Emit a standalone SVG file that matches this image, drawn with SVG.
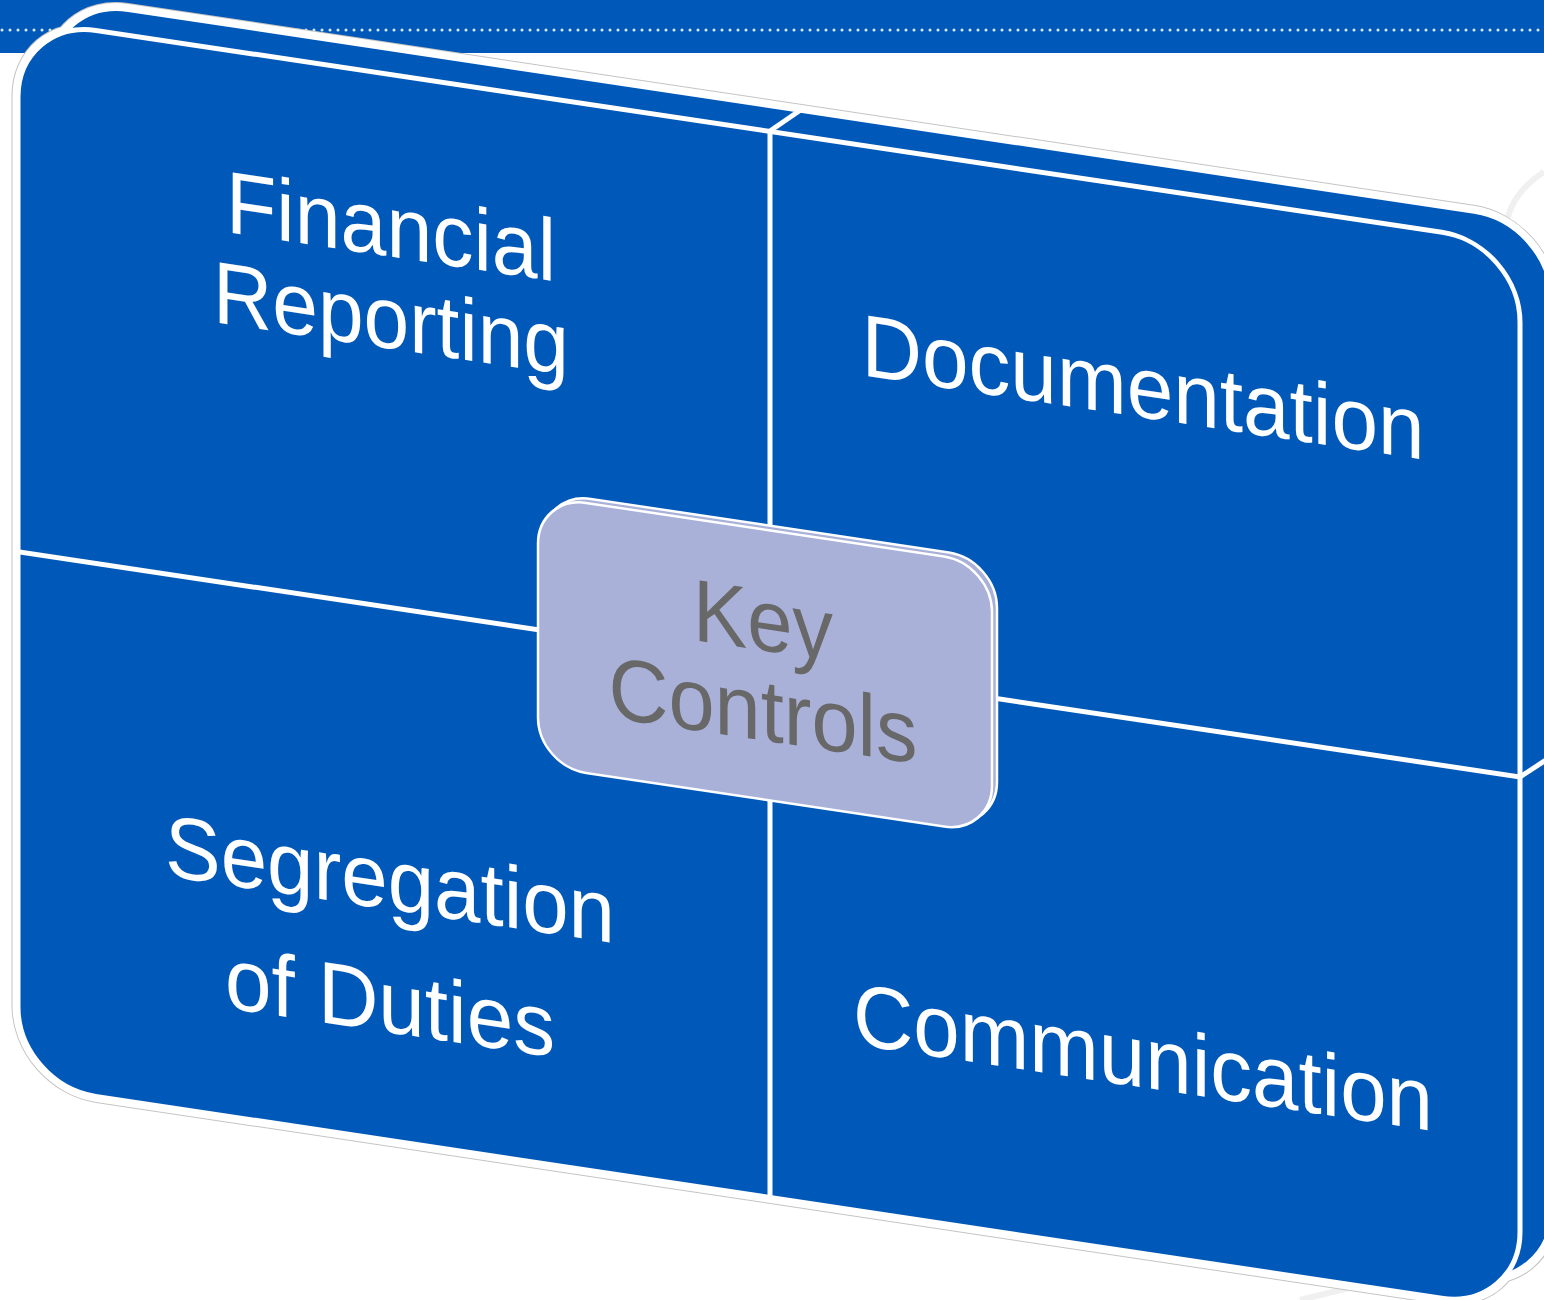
<svg xmlns="http://www.w3.org/2000/svg" width="1544" height="1300" viewBox="0 0 1544 1300">
  <style>
    .blue{fill:#0058b8}
    .halo-gray{fill:none;stroke:#c4c4c4;stroke-width:13}
    .halo-white{fill:none;stroke:#ffffff;stroke-width:11}
    .face{fill:#0058b8;stroke:#ffffff;stroke-width:5}
    .divider{fill:none;stroke:#ffffff;stroke-width:5}
    .label{font-family:"Liberation Sans",Arial,sans-serif;font-size:88px;fill:#ffffff;text-anchor:middle}
    .center-label{font-family:"Liberation Sans",Arial,sans-serif;font-size:88px;fill:#686868;text-anchor:middle}
    .hub{fill:#a9b1d9;stroke:#ffffff;stroke-width:2.5}
  </style>
  <defs>
    <rect id="slab" x="18" y="16" width="1502" height="1066" rx="78" ry="78"/>
    <rect id="hub-shape" x="538" y="415" width="454" height="270" rx="48" ry="48"/>
  </defs>

  <!-- page background and header band -->
  <rect x="0" y="0" width="1544" height="1300" fill="#ffffff"/>
  <rect x="0" y="0" width="1544" height="53" class="blue"/>
  <line x1="2" y1="30" x2="1544" y2="30" stroke="#d6ebff" stroke-width="3" stroke-linecap="round" stroke-dasharray="0 8"/>

  <!-- faint background ornaments -->
  <g fill="none" stroke="#ececec" stroke-width="6" opacity="0.8">
    <path d="M1505 250 Q1500 200 1544 172"/>
    <path d="M1300 1300 Q1420 1270 1544 1240"/>
  </g>

  <!-- slab outline halo (back and front) -->
  <g id="slab-halo">
    <use href="#slab" class="halo-gray" transform="translate(32,-21) skewY(8.5308)"/>
    <use href="#slab" class="halo-gray" transform="skewY(8.5308)"/>
    <use href="#slab" class="halo-white" transform="translate(32,-21) skewY(8.5308)"/>
    <use href="#slab" class="halo-white" transform="skewY(8.5308)"/>
  </g>

  <!-- back face of the slab -->
  <g id="slab-back" transform="translate(32,-21) skewY(8.5308)">
    <use href="#slab" class="face"/>
  </g>

  <!-- front face of the slab -->
  <g id="slab-front" transform="skewY(8.5308)">
    <use href="#slab" class="face"/>
  </g>

  <!-- quadrant dividers and depth edges -->
  <g id="connectors">
    <g transform="skewY(8.5308)">
      <line class="divider" x1="770" y1="16" x2="770" y2="1082"/>
      <line class="divider" x1="18" y1="549" x2="1520" y2="549"/>
    </g>
    <line class="divider" x1="770" y1="131" x2="802" y2="109"/>
    <line class="divider" x1="1520" y1="777" x2="1552" y2="756"/>
  </g>

  <!-- quadrant: Financial Reporting -->
  <g id="node-financial-reporting" transform="skewY(8.5308)">
    <text class="label" x="391" y="198" textLength="330" lengthAdjust="spacingAndGlyphs">Financial</text>
    <text class="label" x="391" y="290" textLength="356" lengthAdjust="spacingAndGlyphs">Reporting</text>
  </g>

  <!-- quadrant: Documentation -->
  <g id="node-documentation" transform="skewY(8.5308)">
    <text class="label" x="1143" y="246" textLength="563" lengthAdjust="spacingAndGlyphs">Documentation</text>
  </g>

  <!-- quadrant: Segregation of Duties -->
  <g id="node-segregation" transform="skewY(8.5308)">
    <text class="label" x="390" y="851" textLength="450" lengthAdjust="spacingAndGlyphs">Segregation</text>
    <text class="label" x="390" y="974" textLength="330" lengthAdjust="spacingAndGlyphs">of Duties</text>
  </g>

  <!-- quadrant: Communication -->
  <g id="node-communication" transform="skewY(8.5308)">
    <text class="label" x="1143" y="916" textLength="580" lengthAdjust="spacingAndGlyphs">Communication</text>
  </g>

  <!-- central hub: Key Controls -->
  <g id="node-key-controls">
    <use href="#hub-shape" class="hub" transform="translate(5,-4) skewY(8.5308)"/>
    <g transform="skewY(8.5308)">
      <use href="#hub-shape" class="hub"/>
      <text class="center-label" x="763" y="536" textLength="140" lengthAdjust="spacingAndGlyphs">Key</text>
      <text class="center-label" x="763" y="626" textLength="309" lengthAdjust="spacingAndGlyphs">Controls</text>
    </g>
  </g>
</svg>
